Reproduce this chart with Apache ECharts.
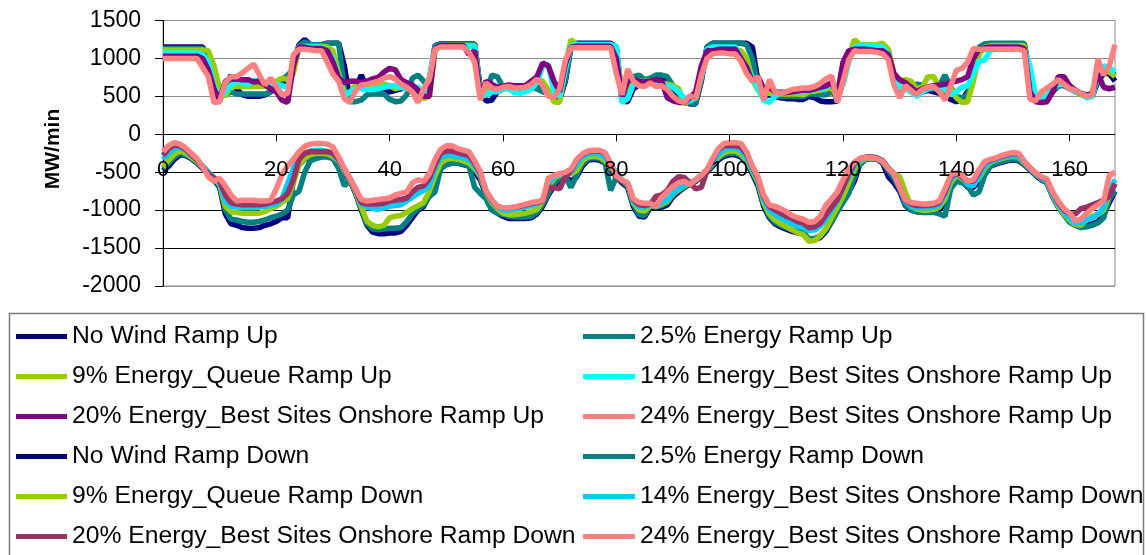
<!DOCTYPE html>
<html>
<head>
<meta charset="utf-8">
<script src="https://cdn.jsdelivr.net/npm/echarts/dist/echarts.min.js"></script>
<style>
  html, body { margin: 0; padding: 0; background: #fff; overflow: hidden; }
  #chart { width: 1147px; height: 620px; }
</style>
</head>
<body>
<div id="chart"></div>
<script>
// Hourly ramp requirements (MW/min) over one week, hour 0..168
const hours = Array.from({ length: 169 }, (_, i) => String(i));

const seriesNames = [
  'No Wind Ramp Up',
  '2.5% Energy Ramp Up',
  '9% Energy_Queue Ramp Up',
  '14% Energy_Best Sites Onshore Ramp Up',
  '20% Energy_Best Sites Onshore Ramp Up',
  '24% Energy_Best Sites Onshore Ramp Up',
  'No Wind Ramp Down',
  '2.5% Energy Ramp Down',
  '9% Energy_Queue Ramp Down',
  '14% Energy_Best Sites Onshore Ramp Down',
  '20% Energy_Best Sites Onshore Ramp Down',
  '24% Energy_Best Sites Onshore Ramp Down'
];

const seriesColors = [
  '#000080', '#008080', '#99CC00', '#00FFFF', '#800080', '#FF8080',
  '#000080', '#008080', '#99CC00', '#00CCFF', '#993366', '#FF8080'
];

// ---- Ramp Up ----
const noWindUp = [1150,1150,1150,1150,1150,1150,1150,1150,1000,850,550,600,780,600,520,500,500,500,520,560,620,650,700,900,1180,1250,1180,1180,1180,
1200,1200,1200,900,450,600,780,600,570,560,560,560,580,600,620,620,600,560,700,1170,1190,1190,1190,1190,1190,1190,1190,600,
440,450,560,600,620,600,580,600,640,650,620,560,470,460,700,1150,1200,1200,1200,1200,1200,1200,1200,1150,440,430,600,650,660,
720,700,740,720,600,520,450,400,400,700,1150,1200,1200,1200,1200,1200,1200,1200,1150,700,500,520,500,480,470,470,460,460,
500,480,440,430,430,440,700,1000,1160,1180,1180,1180,1170,1160,1100,700,560,640,560,540,560,580,560,540,500,460,430,460,
560,800,1100,1180,1180,1180,1180,1180,1180,1180,1180,700,450,430,470,560,640,660,620,580,540,500,500,700,800,800,700];

const energy25Up = [1130,1130,1130,1130,1130,1130,1130,1130,1050,800,500,520,560,530,530,530,530,530,530,560,640,720,780,850,1170,1220,1180,1180,1180,
1200,1200,1200,600,430,430,450,520,530,530,530,460,430,440,520,740,780,700,600,1170,1190,1190,1190,1190,1190,1190,1190,550,
500,780,760,620,600,590,580,590,620,600,560,540,560,500,720,1150,1190,1190,1190,1190,1190,1190,1190,1100,500,560,760,780,720,
740,780,780,760,640,540,460,410,410,720,1150,1200,1200,1200,1200,1200,1200,1180,1000,650,560,540,520,500,500,500,500,500,
530,530,520,520,560,480,720,1000,1160,1170,1170,1170,1160,1150,1100,760,600,620,640,660,650,600,600,640,780,620,500,480,
520,760,1150,1190,1200,1200,1200,1200,1200,1200,1200,800,480,460,500,580,640,640,600,560,540,520,520,720,860,840,780];

const queue9Up = [1110,1110,1110,1110,1110,1110,1110,1110,1100,900,600,500,640,630,630,630,630,630,630,650,700,740,720,800,1150,1160,1160,1160,1160,
1150,1100,800,550,550,650,620,600,610,640,660,640,600,620,640,600,560,470,500,1100,1170,1170,1170,1170,1170,1170,1170,500,
560,620,600,610,620,620,620,650,700,720,700,580,430,420,900,1250,1180,1180,1180,1180,1180,1180,1180,1120,560,620,680,700,700,
700,680,680,660,640,600,400,450,480,800,1100,1120,1120,1130,1120,1110,1100,1000,720,580,560,540,540,530,530,530,530,520,
560,570,580,600,610,500,700,1000,1250,1180,1180,1180,1180,1200,1120,800,700,720,700,600,620,760,760,620,580,600,480,420,
430,700,1050,1150,1170,1170,1170,1170,1170,1170,1170,750,480,480,520,600,660,700,640,560,520,500,560,820,900,820,760];

const best14Up = [1070,1070,1070,1070,1070,1070,1070,1050,950,650,470,560,650,700,680,660,700,720,680,660,660,640,620,900,1150,1150,1150,1150,1150,
1100,1000,750,500,560,600,600,590,590,600,620,640,640,620,600,620,620,560,750,1150,1160,1160,1160,1160,1160,1160,1160,500,
520,560,560,600,600,550,540,560,600,680,900,920,560,500,850,1170,1180,1180,1180,1180,1180,1180,1180,1160,420,470,660,700,680,
680,660,660,640,620,560,480,440,480,760,1120,1150,1150,1150,1150,1150,1000,880,750,600,450,420,500,560,560,560,560,560,
580,590,600,620,660,600,650,950,1150,1170,1170,1170,1160,1150,1060,700,620,600,560,500,560,600,620,640,600,520,560,620,
640,800,960,980,1100,1150,1150,1150,1150,1150,1100,900,500,460,500,600,660,660,600,560,540,480,500,780,900,880,820];

const best20Up = [1030,1030,1030,1030,1030,1030,1030,1000,850,600,450,700,730,730,720,720,690,700,650,600,560,450,420,900,1150,1150,1130,1130,1130,
1100,950,740,680,700,700,680,700,730,750,820,870,850,720,680,650,580,500,500,1140,1170,1170,1170,1170,1170,1050,1100,500,
700,660,620,630,650,640,640,640,700,760,940,900,700,560,920,1150,1160,1160,1160,1160,1160,1160,1160,1000,500,700,720,700,690,
700,720,700,480,440,420,420,480,560,900,1100,1100,1120,1120,1120,1120,1000,880,700,760,600,620,560,550,550,560,570,580,
580,600,620,640,680,520,950,1100,1120,1120,1120,1110,1100,1100,1050,800,720,680,620,560,600,620,640,650,660,680,700,720,
760,1000,1120,1140,1150,1150,1150,1150,1150,1150,1130,560,430,420,430,560,760,760,640,580,540,510,540,800,620,600,620];

const best24Up = [1000,1000,1000,1000,1000,1000,1000,880,760,420,430,680,760,760,810,870,925,785,650,740,630,520,540,1050,1120,1120,1110,1100,1100,
950,790,700,470,420,580,650,660,680,700,740,760,730,660,620,560,420,600,720,1120,1150,1150,1150,1150,1150,1080,950,450,
680,610,590,620,630,610,610,620,660,730,640,500,490,600,980,1140,1140,1140,1140,1140,1140,1140,1140,800,520,860,700,640,630,
680,630,640,590,500,440,420,510,470,780,1000,1060,1070,1070,1060,1060,960,800,700,760,450,720,560,540,560,590,600,610,
610,630,670,730,770,420,700,980,1100,1090,1090,1090,1080,1060,980,650,480,640,580,520,590,620,630,560,450,640,840,870,
950,1130,1120,1120,1120,1120,1120,1120,1120,1120,1100,460,440,560,610,660,720,660,600,580,540,500,520,990,780,900,1180];

// ---- Ramp Down ----
const noWindDown = [-480,-420,-330,-270,-280,-320,-380,-450,-520,-600,-700,-1050,-1180,-1200,-1230,-1240,-1240,-1230,-1200,-1180,-1150,-1100,-1100,-600,-400,-330,-300,-290,-290,
-290,-300,-380,-500,-620,-780,-1000,-1200,-1290,-1310,-1310,-1300,-1300,-1280,-1200,-1100,-1000,-950,-800,-600,-450,-400,-380,-380,-400,-420,-500,-600,
-800,-980,-1040,-1080,-1110,-1110,-1110,-1110,-1100,-1050,-950,-800,-680,-600,-560,-620,-560,-420,-340,-330,-340,-380,-470,-560,-640,-700,-950,-1080,-1090,
-960,-970,-960,-930,-820,-760,-700,-660,-620,-560,-500,-420,-340,-290,-270,-270,-300,-380,-520,-680,-950,-1100,-1180,-1220,-1250,-1280,-1300,-1310,
-1400,-1390,-1360,-1280,-1150,-1000,-850,-760,-620,-380,-330,-320,-330,-380,-560,-640,-750,-940,-1000,-1020,-1020,-1020,-1020,-1000,-900,-680,-560,-600,
-700,-700,-620,-500,-420,-390,-370,-350,-340,-350,-400,-470,-540,-600,-640,-820,-960,-1060,-1150,-1200,-1220,-1200,-1180,-1150,-1050,-900,-750];

const energy25Down = [-450,-380,-300,-250,-270,-310,-370,-440,-510,-590,-680,-1000,-1120,-1130,-1150,-1160,-1160,-1150,-1130,-1100,-1080,-1050,-1000,-800,-750,-500,-350,-320,-300,
-300,-320,-450,-680,-600,-750,-980,-1180,-1250,-1260,-1250,-1240,-1240,-1230,-1150,-1050,-980,-930,-820,-760,-450,-400,-380,-380,-390,-420,-700,-780,
-850,-1000,-1040,-1060,-1080,-1090,-1090,-1090,-1080,-1030,-930,-780,-650,-570,-560,-700,-540,-390,-320,-310,-320,-370,-740,-560,-620,-680,-920,-1060,-1070,
-940,-960,-940,-900,-800,-740,-690,-650,-610,-550,-490,-400,-320,-270,-250,-250,-280,-360,-500,-650,-920,-1080,-1160,-1200,-1230,-1260,-1280,-1290,
-1380,-1370,-1340,-1260,-1150,-1020,-900,-780,-560,-400,-330,-320,-330,-370,-480,-580,-720,-930,-1000,-1020,-1030,-1030,-1030,-1050,-1080,-720,-620,-640,
-680,-800,-760,-540,-420,-380,-360,-340,-330,-340,-390,-460,-530,-590,-640,-820,-960,-1060,-1160,-1200,-1230,-1220,-1200,-1170,-1100,-850,-750];

const queue9Down = [-430,-340,-260,-220,-250,-300,-360,-430,-500,-580,-660,-950,-1020,-1030,-1040,-1040,-1040,-1040,-1020,-980,-950,-900,-850,-650,-400,-320,-270,-250,-250,
-260,-290,-350,-480,-600,-760,-960,-1150,-1200,-1220,-1200,-1100,-1080,-1070,-1030,-980,-940,-900,-750,-550,-380,-330,-320,-330,-350,-380,-450,-560,
-770,-900,-980,-1040,-1060,-1060,-1050,-1040,-1020,-990,-880,-700,-580,-540,-520,-520,-480,-350,-300,-290,-300,-350,-440,-520,-610,-660,-900,-1000,-1010,
-940,-950,-920,-880,-790,-730,-680,-650,-600,-540,-470,-380,-300,-240,-220,-220,-260,-340,-480,-630,-900,-1050,-1130,-1180,-1220,-1260,-1300,-1320,
-1410,-1400,-1340,-1240,-1100,-960,-820,-640,-460,-360,-320,-310,-320,-350,-440,-520,-560,-760,-950,-990,-1000,-1000,-990,-960,-850,-640,-540,-580,
-640,-650,-580,-450,-370,-340,-320,-300,-290,-300,-380,-450,-520,-580,-620,-800,-950,-1050,-1130,-1190,-1200,-1120,-1080,-1060,-1000,-800,-650];

const best14Down = [-330,-250,-190,-170,-210,-280,-340,-420,-500,-570,-640,-880,-950,-960,-970,-970,-970,-960,-950,-940,-920,-850,-650,-450,-300,-250,-220,-210,-210,
-230,-260,-340,-470,-590,-740,-920,-960,-980,-990,-970,-950,-940,-930,-880,-830,-780,-740,-680,-450,-300,-280,-280,-300,-310,-330,-420,-540,
-760,-880,-960,-1000,-1000,-990,-980,-960,-940,-920,-860,-650,-560,-530,-510,-500,-400,-300,-260,-250,-260,-300,-420,-500,-600,-650,-880,-960,-960,
-930,-940,-900,-860,-780,-720,-670,-640,-600,-540,-470,-370,-270,-200,-180,-180,-220,-310,-460,-600,-860,-1000,-1060,-1100,-1140,-1180,-1210,-1230,
-1270,-1260,-1210,-1120,-1000,-880,-700,-560,-420,-340,-310,-300,-310,-350,-450,-530,-700,-880,-950,-970,-970,-970,-960,-930,-800,-600,-520,-560,
-660,-680,-560,-420,-360,-330,-310,-290,-280,-290,-370,-450,-520,-580,-620,-790,-930,-1030,-1110,-1170,-1170,-1130,-1100,-1050,-960,-750,-600];

const best20Down = [-280,-190,-140,-150,-200,-270,-340,-430,-520,-580,-620,-800,-900,-920,-930,-930,-930,-930,-920,-900,-880,-850,-780,-600,-330,-250,-230,-230,-230,
-230,-250,-330,-460,-590,-730,-900,-920,-920,-920,-910,-880,-870,-860,-840,-760,-700,-680,-580,-400,-250,-220,-220,-240,-260,-280,-380,-520,
-750,-870,-950,-970,-970,-960,-950,-930,-910,-900,-880,-700,-700,-720,-560,-480,-340,-270,-230,-220,-220,-250,-400,-560,-610,-650,-860,-930,-940,
-920,-820,-800,-740,-620,-560,-570,-640,-720,-700,-480,-340,-200,-150,-150,-150,-170,-260,-430,-580,-820,-950,-1000,-1040,-1080,-1110,-1150,-1170,
-1230,-1220,-1170,-1060,-960,-860,-700,-520,-390,-320,-300,-300,-310,-350,-450,-520,-700,-870,-920,-940,-940,-940,-930,-900,-760,-560,-510,-560,
-620,-620,-500,-370,-340,-320,-290,-270,-250,-260,-360,-440,-510,-570,-600,-770,-900,-1000,-1050,-1050,-980,-960,-930,-900,-870,-820,-650];

const best24Down = [-230,-150,-110,-130,-180,-250,-320,-430,-560,-620,-580,-680,-800,-880,-870,-870,-870,-880,-880,-870,-720,-530,-420,-330,-230,-160,-130,-120,-120,
-130,-170,-300,-450,-580,-720,-860,-880,-870,-860,-850,-840,-800,-780,-760,-640,-600,-620,-520,-330,-200,-150,-150,-190,-210,-230,-350,-490,
-740,-860,-950,-970,-970,-960,-940,-920,-900,-890,-870,-580,-540,-520,-500,-460,-330,-260,-220,-210,-210,-240,-380,-550,-600,-640,-850,-900,-910,
-910,-950,-830,-760,-690,-640,-620,-660,-600,-540,-460,-320,-190,-120,-110,-110,-120,-230,-420,-560,-800,-930,-950,-980,-1020,-1070,-1100,-1120,
-1160,-1150,-1080,-930,-850,-760,-600,-460,-370,-320,-310,-310,-320,-360,-450,-520,-700,-860,-900,-910,-920,-920,-910,-880,-720,-540,-500,-540,
-620,-600,-470,-360,-330,-310,-280,-260,-240,-250,-360,-440,-510,-560,-590,-760,-880,-980,-1040,-1140,-1120,-1040,-980,-930,-880,-540,-500];

const seriesValues = [
  noWindUp, energy25Up, queue9Up, best14Up, best20Up, best24Up,
  noWindDown, energy25Down, queue9Down, best14Down, best20Down, best24Down
];

const FONT = '"Liberation Sans", Arial, Helvetica, sans-serif';

// canvas is a little taller than the visible page so the legend never wraps
const CANVAS_H = 620;
const PLOT_TOP = 20.5, PLOT_BOTTOM = 286;
const GRID = { left: 163, right: 32, top: PLOT_TOP, bottom: CANVAS_H - PLOT_BOTTOM };
const Y_MIN = -2000, Y_MAX = 1500;
// shift the category axis (line, ticks and labels) up onto y = 0
const plotHeight = PLOT_BOTTOM - PLOT_TOP;
const zeroOffset = -plotHeight * (0 - Y_MIN) / (Y_MAX - Y_MIN);

const chart = echarts.init(document.getElementById('chart'), null, { renderer: 'canvas' });

const legendBase = {
  orient: 'vertical',
  icon: 'rect',
  itemHeight: 5,
  itemGap: 15,
  padding: 0,
  top: 324,
  height: 280,
  selectedMode: false,
  textStyle: { fontFamily: FONT, fontSize: 24.7, lineHeight: 24, color: '#000' }
};

const option = {
  animation: false,
  backgroundColor: '#ffffff',
  textStyle: { fontFamily: FONT },
  grid: Object.assign({
    show: true, borderColor: '#8c8c8c', borderWidth: 1, backgroundColor: 'transparent'
  }, GRID),
  xAxis: {
    type: 'category',
    data: hours,
    boundaryGap: false,
    z: 5,
    offset: zeroOffset,
    axisLine: { onZero: false, lineStyle: { color: '#000', width: 1 } },
    axisTick: { show: true, interval: 19, length: 7, lineStyle: { color: '#000' } },
    axisLabel: { interval: 19, margin: 25, fontSize: 22, color: '#000', fontFamily: FONT },
    splitLine: { show: false }
  },
  yAxis: {
    type: 'value',
    min: Y_MIN, max: Y_MAX, interval: 500,
    axisLine: { show: true, lineStyle: { color: '#000', width: 1 } },
    axisTick: { show: true, length: 8, lineStyle: { color: '#000' } },
    axisLabel: { margin: 22, fontSize: 23, color: '#000', fontFamily: FONT, formatter: v => String(v) },
    splitLine: {
      show: true,
      lineStyle: {
        width: 1,
        color: ['#8c8c8c', '#000', '#000', '#000', '#000', '#8c8c8c', '#8c8c8c', '#8c8c8c']
      }
    }
  },
  legend: [
    Object.assign({}, legendBase, {
      left: 16, itemWidth: 51,
      data: [seriesNames[0], seriesNames[2], seriesNames[4], seriesNames[6], seriesNames[8], seriesNames[10]]
    }),
    Object.assign({}, legendBase, {
      left: 583, itemWidth: 52,
      data: [seriesNames[1], seriesNames[3], seriesNames[5], seriesNames[7], seriesNames[9], seriesNames[11]]
    })
  ],
  graphic: [
    {
      type: 'rect',
      z: 0,
      shape: { x: 9.5, y: 313.5, width: 1134, height: 300 },
      style: { fill: 'none', stroke: '#7a7a7a', lineWidth: 1.5 }
    },
    {
      type: 'text',
      x: 53, y: 149,
      rotation: Math.PI / 2,
      style: {
        text: 'MW/min',
        fontFamily: FONT, fontSize: 21, fontWeight: 'bold',
        fill: '#000',
        textAlign: 'center', textVerticalAlign: 'middle'
      }
    }
  ],
  series: seriesNames.map((name, i) => ({
    name: name,
    type: 'line',
    z: 1,
    data: seriesValues[i],
    symbol: 'none',
    showSymbol: false,
    silent: true,
    lineStyle: { width: 5.5, color: seriesColors[i] },
    itemStyle: { color: seriesColors[i] },
    emphasis: { disabled: true }
  }))
};

chart.setOption(option);
</script>
</body>
</html>
